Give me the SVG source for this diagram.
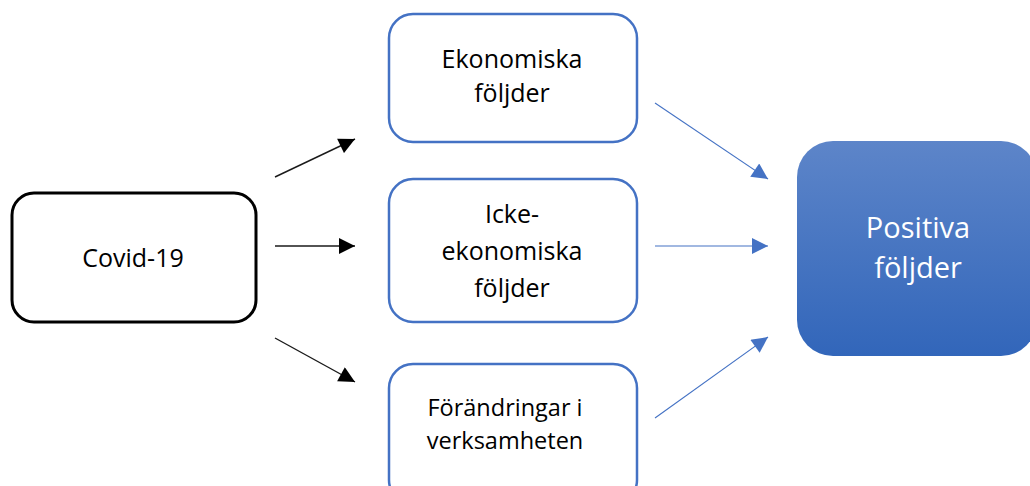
<svg xmlns="http://www.w3.org/2000/svg" width="1030" height="486" viewBox="0 0 1030 486">
<style>
.box{fill:#fff;stroke:#4472C4;stroke-width:2.5}
.t{font-family:"Open Sans","Liberation Sans",sans-serif;font-size:25px;fill:#000;text-anchor:middle}
.ts{font-size:23.5px}
.tw{font-family:"Open Sans","Liberation Sans",sans-serif;font-size:29px;fill:#fff;text-anchor:middle}
.bl{stroke:#1a1a1a;stroke-width:1.4;fill:none}
.bu{stroke:#4472C4;stroke-width:1.1;fill:none}
</style>
<defs>
<marker id="ab" viewBox="0 0 10 10" refX="10" refY="5" markerUnits="userSpaceOnUse" markerWidth="18" markerHeight="16" orient="auto">
<path d="M0,0 L10,5 L0,10 Z" fill="#000"/>
</marker>
<marker id="au" viewBox="0 0 10 10" refX="10" refY="5" markerUnits="userSpaceOnUse" markerWidth="18" markerHeight="16" orient="auto">
<path d="M0,0 L10,5 L0,10 Z" fill="#4472C4"/>
</marker>
<linearGradient id="g" x1="0" y1="0" x2="0" y2="1">
<stop offset="0" stop-color="#5D85C9"/>
<stop offset="1" stop-color="#3266BA"/>
</linearGradient>
</defs>
<g id="covid">
<rect x="12" y="193" width="244" height="129" rx="22" fill="#fff" stroke="#000" stroke-width="3"/>
<text class="t" x="133" y="267">Covid-19</text>
</g>
<g id="ekonomiska">
<rect class="box" x="389" y="14" width="248" height="128" rx="24"/>
<text class="t" x="512" y="68">Ekonomiska</text>
<text class="t" x="512" y="102">följder</text>
</g>
<g id="icke">
<rect class="box" x="389" y="179" width="248" height="143" rx="24"/>
<text class="t" x="512" y="223">Icke-</text>
<text class="t" x="512" y="260">ekonomiska</text>
<text class="t" x="512" y="297">följder</text>
</g>
<g id="forandringar">
<rect class="box" x="389" y="364" width="248" height="140" rx="24"/>
<text class="t ts" x="505" y="416">Förändringar i</text>
<text class="t ts" x="505" y="449">verksamheten</text>
</g>
<g id="positiva">
<rect x="797" y="141" width="240" height="215" rx="36" fill="url(#g)"/>
<text class="tw" x="918" y="238">Positiva</text>
<text class="tw" x="918" y="278">följder</text>
</g>
<g id="connectors">
<line class="bl" x1="275" y1="177" x2="355" y2="139" marker-end="url(#ab)"/>
<line class="bl" x1="275" y1="246" x2="355" y2="246" marker-end="url(#ab)"/>
<line class="bl" x1="275" y1="338" x2="355" y2="382" marker-end="url(#ab)"/>
<line class="bu" x1="655" y1="103" x2="768" y2="179" marker-end="url(#au)"/>
<line class="bu" x1="655" y1="246" x2="768" y2="246" marker-end="url(#au)"/>
<line class="bu" x1="655" y1="418" x2="768" y2="337" marker-end="url(#au)"/>
</g>
</svg>
